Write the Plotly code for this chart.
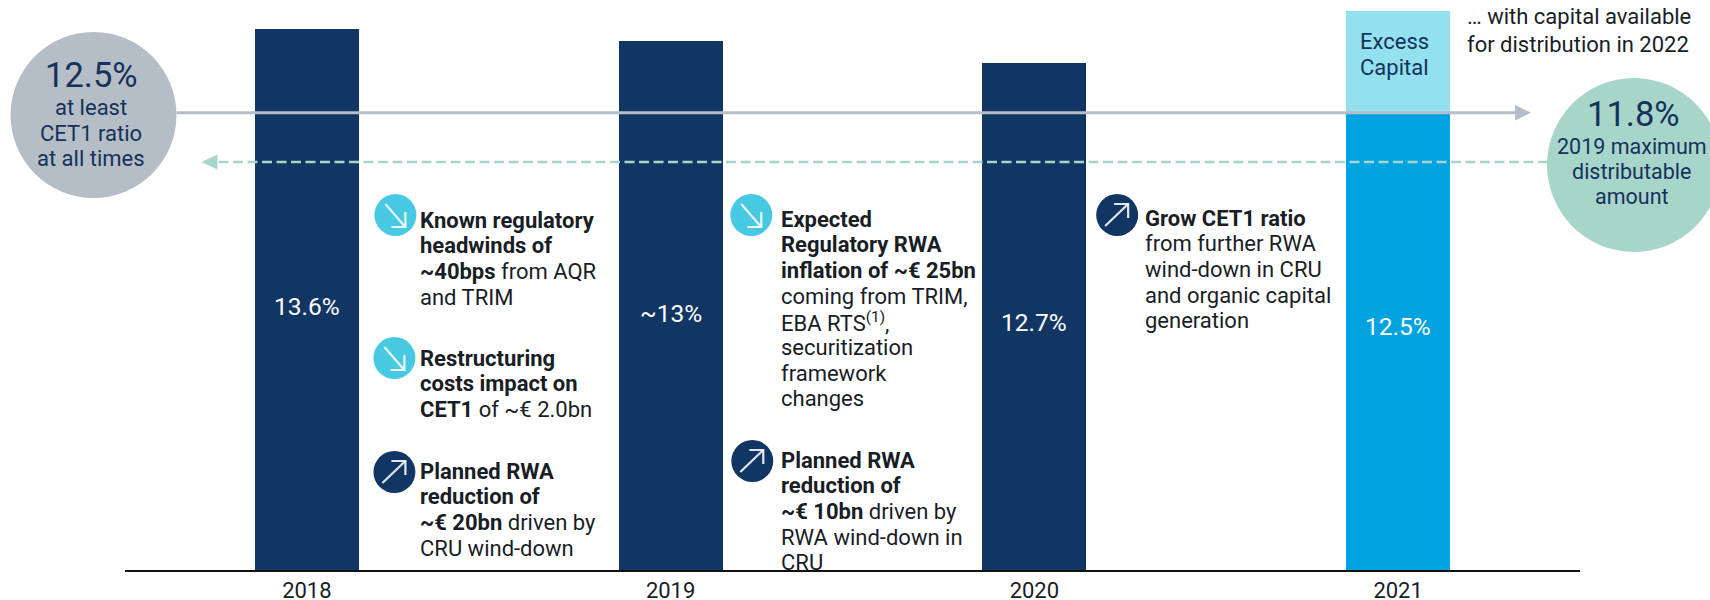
import plotly.graph_objects as go

# ---- data ----
years = ["2018", "2019", "2020", "2021"]
bar_labels = ["13.6%", "~13%", "12.7%", "12.5%"]
# bar heights; the bars are illustrative (0-100, top of 2021 = 100)
base_heights = [96.8, 94.6, 90.7, 81.6]
excess_heights = [0, 0, 0, 18.4]
min_line_level = 81.8
mda_line_level = 73.0

NAVY = "#123663"
CYAN = "#00A3E0"
PALE = "#93E0EF"
GREY = "#B5BEC6"
MINT = "#A8D5CA"
ICON = "#48C9E3"
TEXT = "#14325A"
DARK = "#191D26"
FONT = "Roboto"

W, H = 1710, 600
L, R, T, B = 124.5, 1580, 11, 570


def px(x):
    return (x - L) / (R - L)


def py(y):
    return (B - y) / (B - T)


fig = go.Figure()
fig.add_bar(x=years, y=base_heights, width=0.286,
            marker=dict(color=[NAVY, NAVY, NAVY, CYAN], line_width=0),
            hoverinfo="skip", showlegend=False)
fig.add_bar(x=years, y=excess_heights, width=0.286,
            marker=dict(color=PALE, line_width=0),
            hoverinfo="skip", showlegend=False)

shapes = []
ann = []


def text(x, y, s, size=22, color=DARK, xanchor="left", yanchor="middle", align="left"):
    ann.append(dict(xref="paper", yref="paper", x=px(x), y=py(y), text=s, showarrow=False,
                    xanchor=xanchor, yanchor=yanchor, align=align,
                    font=dict(family=FONT, size=size, color=color),
                    borderpad=0, borderwidth=0))


def block(x, y0, lines, step=25.7, **kw):
    for i, s in enumerate(lines):
        text(x, y0 + i * step, s, **kw)


def circle(cx, cy, r, color):
    shapes.append(dict(type="circle", xref="paper", yref="paper",
                       x0=px(cx - r), x1=px(cx + r), y0=py(cy + r), y1=py(cy - r),
                       fillcolor=color, line_width=0, layer="above"))


def path(points, color=None, width=0, closed=False):
    d = "M " + " L ".join(f"{px(a):.5f},{py(b):.5f}" for a, b in points)
    if closed:
        d += " Z"
    s = dict(type="path", xref="paper", yref="paper", path=d, layer="above")
    if closed:
        s.update(fillcolor=color, line_width=0)
    else:
        s.update(line=dict(color=color, width=width))
    shapes.append(s)


def icon(cx, cy, up):
    circle(cx, cy, 21, NAVY if up else ICON)
    c = "rgba(255,255,255,0.88)"
    if up:
        path([(cx - 12, cy + 11), (cx + 11, cy - 11)], c, 2.2)
        path([(cx - 3, cy - 11), (cx + 11, cy - 11), (cx + 11, cy + 3)], c, 2.2)
    else:
        path([(cx - 10, cy - 11), (cx + 9, cy + 11)], c, 2.2)
        path([(cx + 10, cy - 3), (cx + 10, cy + 12), (cx - 4, cy + 12)], c, 2.2)


# reference lines
shapes.append(dict(type="line", xref="paper", yref="y", x0=px(176), x1=px(1516),
                   y0=min_line_level, y1=min_line_level,
                   line=dict(color=GREY, width=3), layer="above"))
path([(1515, 105), (1531, 112.7), (1515, 120.5)], GREY, closed=True)
shapes.append(dict(type="line", xref="paper", yref="y", x0=px(1548), x1=px(216),
                   y0=mda_line_level, y1=mda_line_level,
                   line=dict(color=MINT, width=2.5, dash="10px,4.5px"), layer="above"))
path([(217, 154.5), (201, 162), (217, 169.5)], MINT, closed=True)

# circles
circle(93, 115, 83, GREY)
circle(1634, 165, 87, MINT)

text(91, 75, "12.5%", 34.5, TEXT, "center")
block(90, 107, ["at least", "CET1 ratio", "at all times"], step=26, size=22, color=TEXT, xanchor="center")
text(1634, 114, "11.8%", 34.5, TEXT, "center")
block(1632, 146, ["2019 maximum", "distributable", "amount"], step=25.5, size=21.5, color=TEXT, xanchor="center")

block(1467, 17, ["… with capital available", "for distribution in 2022"], step=28, size=22, color=DARK)
block(1360, 41, ["Excess", "Capital"], step=26, size=22, color=TEXT)

# bar value labels
for i, (lab, yy) in enumerate(zip(bar_labels, [306, 313, 322, 326])):
    ann.append(dict(xref="x", yref="paper", x=i, y=py(yy), text=lab, showarrow=False,
                    xanchor="center", yanchor="middle",
                    font=dict(family=FONT, size=24.5, color="white")))

# commentary
icon(395, 215, False)
block(420, 220, ["<b>Known regulatory</b>", "<b>headwinds of</b>", "<b>~40bps</b> from AQR", "and TRIM"])
icon(394, 358, False)
block(420, 358, ["<b>Restructuring</b>", "<b>costs impact on</b>", "<b>CET1</b> of ~€ 2.0bn"])
icon(394, 472, True)
block(420, 471, ["<b>Planned RWA</b>", "<b>reduction of</b>", "<b>~€ 20bn</b> driven by", "CRU wind-down"])

icon(751, 215, False)
block(781, 219, ["<b>Expected</b>", "<b>Regulatory RWA</b>", "<b>inflation of ~€ 25bn</b>", "coming from TRIM,",
                 "EBA RTS<sup>(1)</sup>,", "securitization", "framework", "changes"])
icon(752, 461, True)
block(781, 460, ["<b>Planned RWA</b>", "<b>reduction of</b>", "<b>~€ 10bn</b> driven by", "RWA wind-down in", "CRU"])

icon(1117, 215, True)
block(1145, 218, ["<b>Grow CET1 ratio</b>", "from further RWA", "wind-down in CRU", "and organic capital", "generation"])

fig.update_layout(
    width=W, height=H, autosize=False,
    margin=dict(l=L, r=W - R, t=T, b=H - B, pad=0),
    paper_bgcolor="white", plot_bgcolor="white",
    barmode="stack", showlegend=False,
    shapes=shapes, annotations=ann,
    font=dict(family=FONT, color=DARK),
    xaxis=dict(type="category", categoryorder="array", categoryarray=years,
               range=[-0.5, 3.5], showgrid=False, zeroline=False, automargin=False,
               showline=True, linecolor="#111111", linewidth=2,
               ticks="", tickfont=dict(family=FONT, size=22, color=DARK), fixedrange=True),
    yaxis=dict(range=[0, 100], visible=False, fixedrange=True, automargin=False),
)

fig.write_html("out.html", config={"displayModeBar": False},
               post_script="document.body.style.margin='0';document.body.style.overflow='hidden';")
